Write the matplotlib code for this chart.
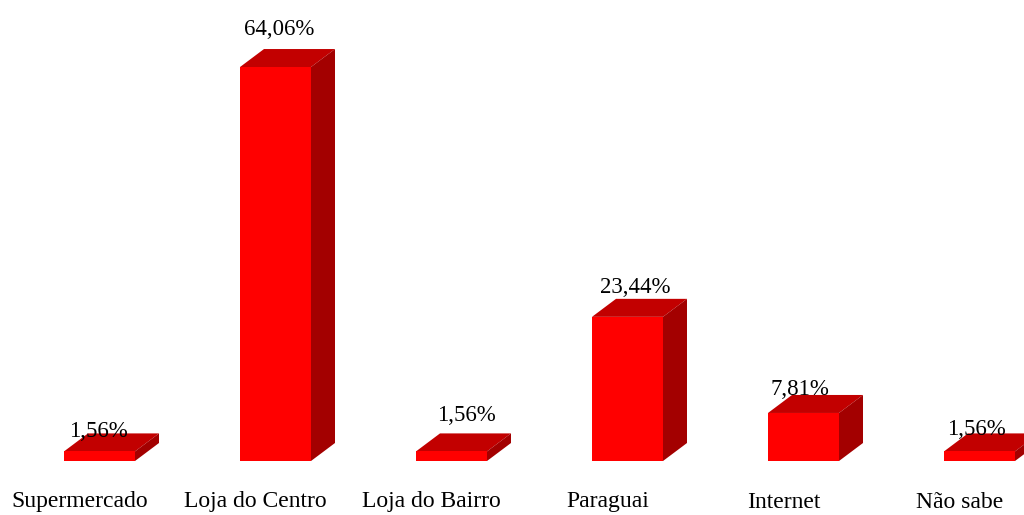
import numpy as np
import matplotlib
matplotlib.use("Agg")
import matplotlib.pyplot as plt
from matplotlib.patches import Polygon

# data
categories = ['Supermercado', 'Loja do Centro', 'Loja do Bairro',
              'Paraguai', 'Internet', 'Não sabe']
values = [1.56, 64.06, 1.56, 23.44, 7.81, 1.56]
value_labels = ['1,56%', '64,06%', '1,56%', '23,44%', '7,81%', '1,56%']

# style / layout (pixels)
label_dx = [-1.5, 4, 14.5, 8, -3.5, -3]
label_dy = [14, 32, 30, 24, 18, 16]
front_col = '#ff0000'
top_col = '#c20000'
side_col = '#a30000'

plt.rcParams['font.family'] = ['Liberation Serif', 'DejaVu Serif']

fig = plt.figure(figsize=(10.24, 5.15), dpi=100)
ax = fig.add_axes([0, 0, 1, 1])

px_x = 176.0          # pixels per category
px_y = 6.15           # pixels per percent
ax.set_xlim(-99.5 / px_x, (1024 - 99.5) / px_x)
ax.set_ylim(-54 / px_y, (515 - 54) / px_y)
ax.axis('off')

width = 71 / px_x
ddx = 24 / px_x
ddy = 18 / px_y

x = np.arange(len(categories))
ax.bar(x, values, width=width, color=front_col, zorder=3)
for xi, v in zip(x, values):
    l, r = xi - width / 2, xi + width / 2
    top = Polygon([(l, v), (r, v), (r + ddx, v + ddy), (l + ddx, v + ddy)],
                  closed=True, facecolor=top_col, edgecolor='none', zorder=2)
    side = Polygon([(r, 0), (r + ddx, ddy), (r + ddx, v + ddy), (r, v)],
                   closed=True, facecolor=side_col, edgecolor='none', zorder=2)
    ax.add_patch(top)
    ax.add_patch(side)

for i, (xi, v) in enumerate(zip(x, values)):
    ax.annotate(value_labels[i], (xi, v), xytext=(label_dx[i], label_dy[i]),
                textcoords='offset pixels', ha='center', va='baseline',
                fontsize=16.5, color='black', zorder=5)
    ax.text(xi - 20 / px_x, -41 / px_y, categories[i], ha='center', va='center',
            fontsize=17, color='black')

fig.savefig('out.png', dpi=100, facecolor='white')
